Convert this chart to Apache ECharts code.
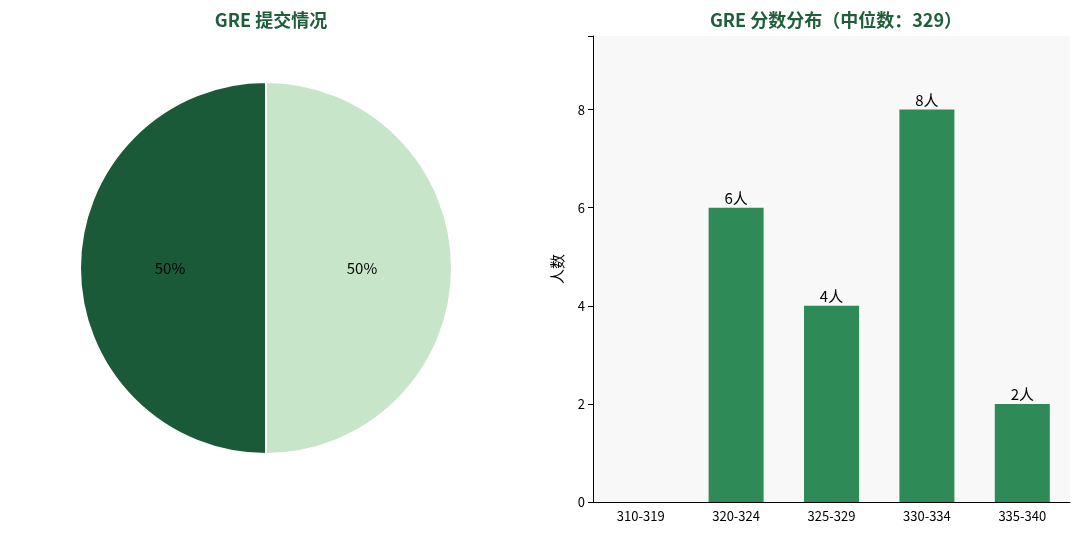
<!DOCTYPE html><html><head><meta charset="utf-8">
<script src="https://cdn.jsdelivr.net/npm/echarts@6/dist/echarts.min.js"></script>
<style>html,body{margin:0;padding:0;background:#fff}#c{width:1080px;height:540px}</style></head><body>
<div id="c"></div>
<script>
const pieNames=['已提交','未提交'];
const pieValues=[20,20];
const pieColors=['#1b5a38','#c7e6c9'];
const barCats=['310-319','320-324','325-329','330-334','335-340'];
const barValues=[0,6,4,8,2];
const yTicks=[0,2,4,6,8];
const F='"Noto Sans CJK SC","Noto Sans",sans-serif';
const chart=echarts.init(document.getElementById('c'));
const pieData=pieNames.map((n,i)=>({name:n,value:pieValues[i],itemStyle:{color:pieColors[i]}}));
chart.setOption({
 textStyle:{fontFamily:F},
 title:[{text:'GRE 提交情况',left:266,top:6,textAlign:'center',textStyle:{color:'#1f5e3a',fontSize:18,fontWeight:'bold',fontFamily:F}},
        {text:'GRE 分数分布（中位数：329）',left:831,top:6,textAlign:'center',textStyle:{color:'#1f5e3a',fontSize:18,fontWeight:'bold',fontFamily:F}}],
 grid:{left:593,right:10,top:36,bottom:38,show:true,backgroundColor:'#f8f8f8',borderWidth:0},
 xAxis:{type:'category',data:barCats,axisLine:{lineStyle:{color:'#000'}},axisTick:{alignWithLabel:true,lineStyle:{color:'#000'}},axisLabel:{color:'#000',fontSize:13,fontFamily:F}},
 yAxis:{type:'value',min:0,max:9.5,interval:2,name:'人数',nameLocation:'middle',nameGap:28,nameTextStyle:{color:'#000',fontSize:15,fontFamily:F},
   axisLine:{show:true,lineStyle:{color:'#000'}},axisTick:{show:true,lineStyle:{color:'#000'}},splitLine:{show:false},
   axisLabel:{color:'#000',fontSize:13,formatter:v=>yTicks.includes(v)?String(v):''}},
 series:[
  {type:'pie',center:[266,268],radius:186,startAngle:90,clockwise:false,data:pieData,
   itemStyle:{borderColor:'#fff',borderWidth:2},label:{position:'inside',formatter:'{d}%',color:'#000',fontSize:15,fontFamily:F},labelLine:{show:false},silent:true},
  {type:'pie',center:[266,268],radius:186,startAngle:90,clockwise:false,data:pieData,
   itemStyle:{opacity:0},label:{position:'outside',formatter:p=>p.name+'\n('+p.value+'人)',color:'#000',fontSize:15,lineHeight:19,fontFamily:F,distanceToLabelLine:0},
   labelLine:{show:true,length:20,length2:0,lineStyle:{opacity:0}},silent:true},
  {type:'bar',data:barValues,barWidth:55,itemStyle:{color:'#2e8b57'},
   label:{show:true,position:'top',formatter:p=>p.value>0?p.value+'人':'',color:'#000',fontSize:15,distance:2,fontFamily:F}}
 ]
});
</script></body></html>
